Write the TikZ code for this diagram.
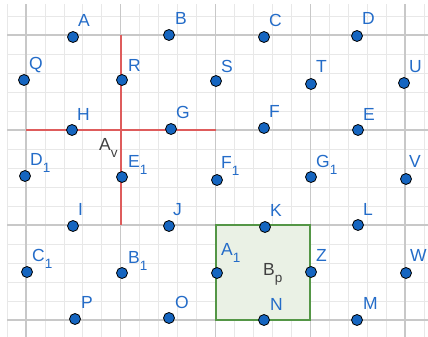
\documentclass[tikz,border=0pt]{standalone}
\usepackage{fontspec}
\setmainfont{Liberation Sans}
\definecolor{ptblue}{RGB}{21,101,192}
\definecolor{lblblue}{RGB}{36,108,200}
\definecolor{minorg}{RGB}{232,232,232}
\definecolor{majorg}{RGB}{200,200,200}
\definecolor{redl}{RGB}{222,92,92}
\definecolor{greenl}{RGB}{84,150,70}
\definecolor{greenf}{RGB}{234,241,229}
\newcommand\sbx[1]{\raisebox{-7pt}{\fontsize{13.5}{13.5}\selectfont #1}}
\tikzset{
  pt/.style={circle, fill=ptblue, draw=black, line width=0.8pt, inner sep=0pt, minimum size=11pt},
  lbl/.style={text=lblblue, anchor=base west, inner sep=0pt, font=\fontsize{17.5}{17.5}\selectfont},
  dlbl/.style={text=black!75, anchor=base west, inner sep=0pt, font=\fontsize{17.5}{17.5}\selectfont},
  gridminor/.style={draw=minorg, line width=0.8pt},
  gridmajor/.style={draw=majorg, line width=1.2pt},
  redline/.style={draw=redl, line width=1.8pt},
  sqbox/.style={draw=greenl, line width=1.8pt},
}
\begin{document}
\begin{tikzpicture}[x=1pt,y=-1pt]
\useasboundingbox (0,0) rectangle (428,337);
% grid
\begin{scope}
\clip (7,5) rectangle (428,337);
\foreach \i in {-1,...,21} {\draw[gridminor] ({26+18.95*\i},0) -- ({26+18.95*\i},337);}
\foreach \j in {-1,...,16} {\draw[gridminor] (0,{320-19*\j}) -- (428,{320-19*\j});}
\foreach \i in {0,...,4} {\draw[gridmajor] ({26+94.75*\i},0) -- ({26+94.75*\i},337);}
\foreach \j in {0,...,3} {\draw[gridmajor] (0,{320-95*\j}) -- (428,{320-95*\j});}
\end{scope}
% square
\coordinate (s1) at (216,225);
\coordinate (s2) at (310,225);
\coordinate (s3) at (310,320);
\coordinate (s4) at (216,320);
\fill[greenf] (s1) -- (s2) -- (s3) -- (s4) -- cycle;
% red cross
\coordinate (h1) at (26,130);
\coordinate (h2) at (216,130);
\coordinate (v1) at (121,35);
\coordinate (v2) at (121,225);
\draw[redline] (h1) -- (h2);
\draw[redline] (v1) -- (v2);
\draw[sqbox] (s1) -- (s2) -- (s3) -- (s4) -- cycle;
% points
\node[pt] (A) at (73,37) {};
\node[pt] (B) at (169,35) {};
\node[pt] (C) at (264,37) {};
\node[pt] (D) at (357,36) {};
\node[pt] (Q) at (24,80) {};
\node[pt] (R) at (122,80) {};
\node[pt] (S) at (216,81) {};
\node[pt] (T) at (311,84) {};
\node[pt] (U) at (404,83) {};
\node[pt] (H) at (72,130) {};
\node[pt] (G) at (171,129) {};
\node[pt] (F) at (264,128) {};
\node[pt] (E) at (358,130) {};
\node[pt] (D1) at (25,176) {};
\node[pt] (E1) at (122,177) {};
\node[pt] (F1) at (217,180) {};
\node[pt] (G1) at (311,177) {};
\node[pt] (V) at (406,179) {};
\node[pt] (I) at (73,226) {};
\node[pt] (J) at (169,226) {};
\node[pt] (K) at (265,227) {};
\node[pt] (L) at (358,225) {};
\node[pt] (C1) at (27,272) {};
\node[pt] (B1) at (122,273) {};
\node[pt] (A1) at (217,273) {};
\node[pt] (Z) at (311,272) {};
\node[pt] (W) at (406,273) {};
\node[pt] (P) at (75,319) {};
\node[pt] (O) at (169,318) {};
\node[pt] (N) at (264,320) {};
\node[pt] (M) at (357,320) {};
% labels
\node[lbl] (lA) at (78,27) {A};
\node[lbl] (lB) at (175,25) {B};
\node[lbl] (lC) at (269,27) {C};
\node[lbl] (lD) at (362,25) {D};
\node[lbl] (lQ) at (29,70) {Q};
\node[lbl] (lR) at (128,71) {R};
\node[lbl] (lS) at (221,72) {S};
\node[lbl] (lT) at (316,73) {T};
\node[lbl] (lU) at (409,72) {U};
\node[lbl] (lH) at (77,120) {H};
\node[lbl] (lG) at (176,118) {G};
\node[lbl] (lF) at (269,117) {F};
\node[lbl] (lE) at (363,120) {E};
\node[lbl] (lD1) at (30,165) {D\sbx{1}};
\node[lbl] (lE1) at (128,167) {E\sbx{1}};
\node[lbl] (lF1) at (221,168) {F\sbx{1}};
\node[lbl] (lG1) at (316,167) {G\sbx{1}};
\node[lbl] (lV) at (409,167) {V};
\node[lbl] (lI) at (78,215) {I};
\node[lbl] (lJ) at (173,215) {J};
\node[lbl] (lK) at (270,216) {K};
\node[lbl] (lL) at (363,215) {L};
\node[lbl] (lC1) at (32,261) {C\sbx{1}};
\node[lbl] (lB1) at (128,263) {B\sbx{1}};
\node[lbl] (lA1) at (221,255) {A\sbx{1}};
\node[lbl] (lZ) at (316,261) {Z};
\node[lbl] (lW) at (410,261) {W};
\node[lbl] (lP) at (81,308) {P};
\node[lbl] (lO) at (175,308) {O};
\node[lbl] (lN) at (270,310) {N};
\node[lbl] (lM) at (363,309) {M};
\node[dlbl] (lAv) at (99,150) {A\sbx{v}};
\node[dlbl] (lBp) at (263,275) {B\sbx{p}};
\end{tikzpicture}
\end{document}
